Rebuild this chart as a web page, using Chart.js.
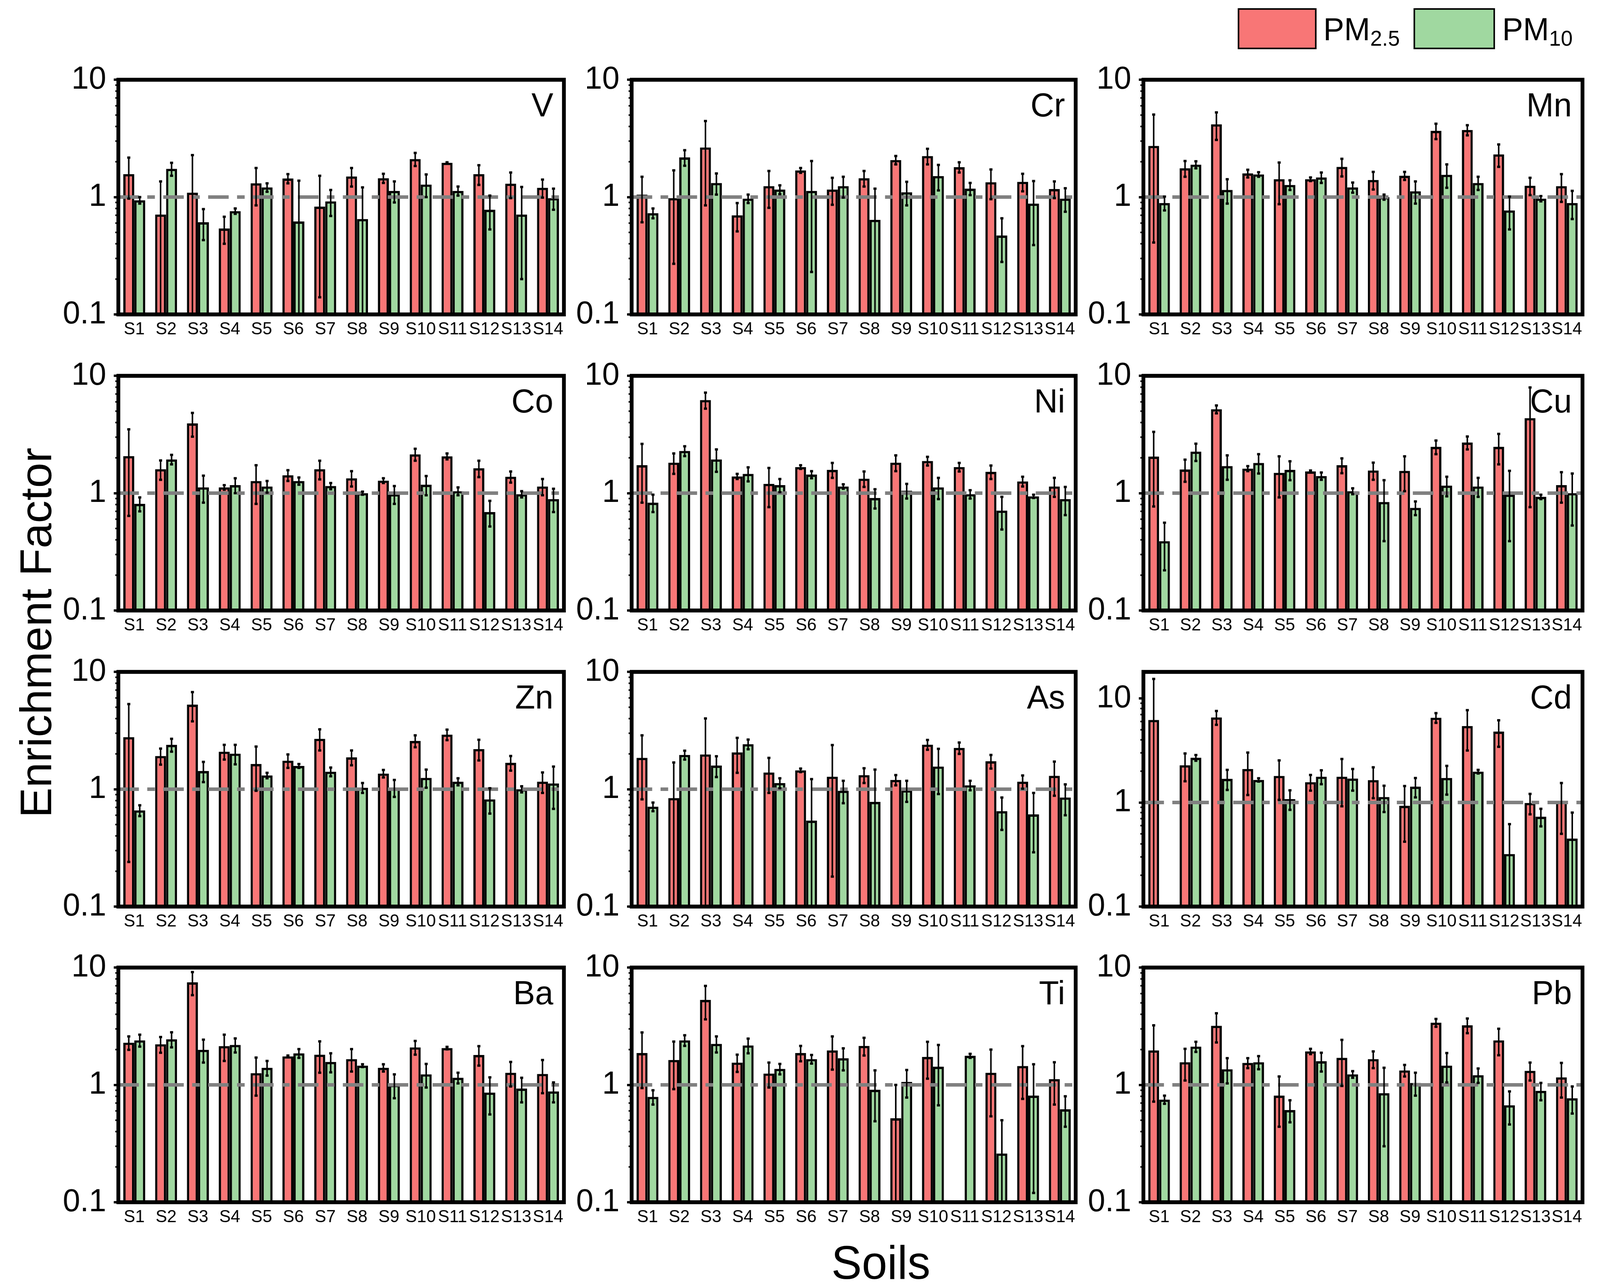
<!DOCTYPE html>
<html>
<head>
<meta charset="utf-8">
<script src="https://cdn.jsdelivr.net/npm/chart.js@4.4.0/dist/chart.umd.min.js"></script>
<style>
  html, body { margin: 0; padding: 0; background: #fff; overflow: hidden; }
  #page { position: absolute; left: 0; top: 0; width: 4205px; height: 3295px; transform-origin: 0 0;
          font-family: 'Liberation Sans', Arial, sans-serif; color: #000; background: #fff; }
  .panel { position: absolute; }
  .box { position: absolute; box-sizing: border-box; border: 4px solid #000; }
  .legtxt { position: absolute; font-size: 82px; line-height: 1; white-space: nowrap; }
  .legtxt sub { font-size: 56px; vertical-align: -14px; }
  .title { position: absolute; font-size: 116px; white-space: nowrap; transform: translate(-50%, -50%); }
</style>
</head>
<body>
<div id="page">
  <div class="box" style="left:3253px; top:21px; width:207px; height:105px; background:#F87676;"></div>
  <div class="legtxt" style="left:3478px; top:34px;">PM<sub>2.5</sub></div>
  <div class="box" style="left:3715px; top:21px; width:214px; height:105px; background:#A0D8A0;"></div>
  <div class="legtxt" style="left:3948px; top:34px;">PM<sub>10</sub></div>

  <div class="title" style="left:94px; top:1620px; transform: translate(-50%, -50%) rotate(-90deg);">Enrichment Factor</div>
  <div class="title" style="left:2315px; top:3232px; font-size:120px;">Soils</div>
</div>

<script>
// Soils on the x axis
const soils = ["S1","S2","S3","S4","S5","S6","S7","S8","S9","S10","S11","S12","S13","S14"];
const yTicks = [0.1, 1, 10];

// Enrichment factors (mean and SD)
const V_PM25    = [1.57,0.71,1.09,0.54,1.31,1.44,0.83,1.50,1.45,2.11,1.96,1.57,1.30,1.20];
const V_PM25_SD = [0.60,0.65,1.19,0.14,0.46,0.13,0.69,0.27,0.13,0.27,0.02,0.30,0.32,0.21];
const V_PM10    = [0.94,1.74,0.61,0.76,1.21,0.62,0.92,0.65,1.13,1.28,1.13,0.78,0.71,0.98];
const V_PM10_SD = [0.06,0.22,0.18,0.04,0.10,0.76,0.23,0.56,0.23,0.28,0.10,0.25,0.51,0.20];

const Cr_PM25    = [1.05,0.98,2.65,0.70,1.24,1.69,1.16,1.45,2.07,2.24,1.80,1.34,1.35,1.17];
const Cr_PM25_SD = [0.44,0.71,1.80,0.19,0.43,0.08,0.30,0.22,0.17,0.34,0.18,0.38,0.23,0.19];
const Cr_PM10    = [0.73,2.18,1.32,0.97,1.16,1.13,1.24,0.64,1.10,1.51,1.18,0.47,0.88,0.97];
const Cr_PM10_SD = [0.07,0.33,0.27,0.08,0.10,0.90,0.25,0.54,0.25,0.37,0.14,0.19,0.49,0.22];

const Mn_PM25    = [2.73,1.76,4.17,1.59,1.42,1.42,1.81,1.40,1.52,3.67,3.73,2.31,1.25,1.24];
const Mn_PM25_SD = [2.32,0.27,1.10,0.12,0.55,0.05,0.31,0.24,0.12,0.55,0.37,0.50,0.21,0.33];
const Mn_PM10    = [0.89,1.89,1.15,1.56,1.27,1.47,1.21,1.00,1.12,1.55,1.32,0.77,0.97,0.89];
const Mn_PM10_SD = [0.12,0.13,0.27,0.07,0.12,0.15,0.12,0.05,0.24,0.35,0.17,0.24,0.05,0.24];

const Co_PM25    = [2.07,1.60,3.93,1.12,1.27,1.42,1.60,1.34,1.28,2.14,2.06,1.63,1.38,1.14];
const Co_PM25_SD = [1.43,0.30,0.90,0.05,0.46,0.15,0.29,0.20,0.06,0.25,0.12,0.26,0.15,0.18];
const Co_PM10    = [0.81,1.94,1.12,1.17,1.14,1.27,1.15,1.00,0.98,1.18,1.04,0.69,0.98,0.89];
const Co_PM10_SD = [0.11,0.18,0.29,0.17,0.13,0.09,0.07,0.03,0.17,0.22,0.08,0.17,0.06,0.20];

const Ni_PM25    = [1.73,1.82,6.22,1.39,1.20,1.67,1.58,1.33,1.82,1.88,1.67,1.52,1.26,1.14];
const Ni_PM25_SD = [0.90,0.36,0.97,0.07,0.44,0.06,0.23,0.20,0.28,0.16,0.14,0.20,0.12,0.21];
const Ni_PM10    = [0.83,2.29,1.94,1.46,1.17,1.44,1.14,0.91,1.05,1.12,0.98,0.71,0.94,0.89];
const Ni_PM10_SD = [0.14,0.22,0.42,0.20,0.15,0.10,0.05,0.17,0.15,0.23,0.08,0.22,0.03,0.24];

const Cu_PM25    = [2.05,1.59,5.19,1.62,1.49,1.53,1.73,1.56,1.55,2.48,2.70,2.48,4.36,1.17];
const Cu_PM25_SD = [1.28,0.34,0.40,0.08,0.57,0.03,0.25,0.26,0.51,0.33,0.34,0.72,3.60,0.34];
const Cu_PM10    = [0.39,2.26,1.70,1.81,1.58,1.40,1.04,0.84,0.75,1.16,1.14,0.97,0.93,1.00];
const Cu_PM10_SD = [0.17,0.38,0.40,0.34,0.29,0.10,0.06,0.45,0.10,0.22,0.21,0.58,0.04,0.47];

const Zn_PM25    = [2.78,1.92,5.26,2.09,1.64,1.75,2.69,1.87,1.36,2.58,2.92,2.20,1.68,1.16];
const Zn_PM25_SD = [2.54,0.30,1.47,0.30,0.67,0.23,0.55,0.27,0.10,0.30,0.30,0.44,0.24,0.23];
const Zn_PM10    = [0.66,2.39,1.43,2.01,1.31,1.58,1.41,1.03,1.03,1.25,1.16,0.82,1.00,1.12];
const Zn_PM10_SD = [0.07,0.30,0.28,0.38,0.07,0.06,0.12,0.10,0.17,0.22,0.08,0.20,0.06,0.44];

const As_PM25    = [1.85,0.84,1.98,2.06,1.39,1.45,1.28,1.32,1.20,2.40,2.25,1.73,1.16,1.30];
const As_PM25_SD = [1.03,0.85,2.03,0.68,0.46,0.05,1.10,0.19,0.12,0.23,0.25,0.23,0.15,0.42];
const As_PM10    = [0.71,1.96,1.59,2.42,1.13,0.54,0.97,0.78,0.98,1.56,1.08,0.65,0.61,0.85];
const As_PM10_SD = [0.06,0.17,0.32,0.23,0.11,0.68,0.21,0.69,0.20,0.65,0.10,0.20,0.32,0.25];

const Cd_PM25    = [6.21,2.28,6.58,2.10,1.80,1.57,1.77,1.64,0.93,6.53,5.44,4.80,0.99,1.02];
const Cd_PM25_SD = [9.20,0.68,1.00,0.92,0.74,0.27,0.85,0.54,0.51,0.70,2.28,1.37,0.22,0.52];
const Cd_PM10    = [null,2.69,1.69,1.65,1.08,1.77,1.70,1.13,1.42,1.72,1.98,0.32,0.73,0.45];
const Cd_PM10_SD = [null,0.17,0.37,0.06,0.23,0.27,0.40,0.32,0.30,0.53,0.08,0.30,0.14,0.35];

const Ba_PM25    = [2.29,2.22,7.49,2.14,1.26,1.75,1.81,1.66,1.40,2.09,2.06,1.80,1.27,1.24];
const Ba_PM25_SD = [0.30,0.34,1.67,0.54,0.45,0.03,0.54,0.36,0.10,0.28,0.05,0.34,0.30,0.39];
const Ba_PM10    = [2.40,2.45,1.99,2.19,1.40,1.86,1.57,1.46,1.00,1.23,1.15,0.86,0.93,0.88];
const Ba_PM10_SD = [0.28,0.36,0.44,0.30,0.20,0.16,0.29,0.04,0.23,0.28,0.12,0.30,0.22,0.17];

const Ti_PM25    = [1.87,1.63,5.30,1.55,1.25,1.87,1.97,2.15,0.52,1.73,null,1.27,1.45,1.12];
const Ti_PM25_SD = [0.93,0.71,1.68,0.26,0.30,0.28,0.62,0.37,0.48,0.60,null,0.73,0.69,0.44];
const Ti_PM10    = [0.79,2.40,2.24,2.17,1.37,1.66,1.69,0.91,1.06,1.43,1.77,0.26,0.81,0.62];
const Ti_PM10_SD = [0.11,0.25,0.35,0.31,0.14,0.14,0.36,0.42,0.28,0.76,0.07,0.24,0.69,0.18];

const Pb_PM25    = [1.97,1.56,3.19,1.54,0.81,1.93,1.70,1.66,1.33,3.39,3.22,2.40,1.32,1.16];
const Pb_PM25_SD = [1.25,0.47,0.89,0.15,0.37,0.10,0.72,0.27,0.15,0.26,0.46,0.61,0.23,0.38];
const Pb_PM10    = [0.75,2.12,1.36,1.56,0.61,1.59,1.23,0.85,1.04,1.46,1.21,0.67,0.89,0.77];
const Pb_PM10_SD = [0.06,0.21,0.33,0.20,0.13,0.29,0.08,0.55,0.23,0.41,0.17,0.21,0.15,0.20];

const panels = [
  {name: "V",  pm25: V_PM25,  pm25sd: V_PM25_SD,  pm10: V_PM10,  pm10sd: V_PM10_SD,  ymax: 10},
  {name: "Cr", pm25: Cr_PM25, pm25sd: Cr_PM25_SD, pm10: Cr_PM10, pm10sd: Cr_PM10_SD, ymax: 10},
  {name: "Mn", pm25: Mn_PM25, pm25sd: Mn_PM25_SD, pm10: Mn_PM10, pm10sd: Mn_PM10_SD, ymax: 10},
  {name: "Co", pm25: Co_PM25, pm25sd: Co_PM25_SD, pm10: Co_PM10, pm10sd: Co_PM10_SD, ymax: 10},
  {name: "Ni", pm25: Ni_PM25, pm25sd: Ni_PM25_SD, pm10: Ni_PM10, pm10sd: Ni_PM10_SD, ymax: 10},
  {name: "Cu", pm25: Cu_PM25, pm25sd: Cu_PM25_SD, pm10: Cu_PM10, pm10sd: Cu_PM10_SD, ymax: 10},
  {name: "Zn", pm25: Zn_PM25, pm25sd: Zn_PM25_SD, pm10: Zn_PM10, pm10sd: Zn_PM10_SD, ymax: 10},
  {name: "As", pm25: As_PM25, pm25sd: As_PM25_SD, pm10: As_PM10, pm10sd: As_PM10_SD, ymax: 10},
  {name: "Cd", pm25: Cd_PM25, pm25sd: Cd_PM25_SD, pm10: Cd_PM10, pm10sd: Cd_PM10_SD, ymax: 18},
  {name: "Ba", pm25: Ba_PM25, pm25sd: Ba_PM25_SD, pm10: Ba_PM10, pm10sd: Ba_PM10_SD, ymax: 10},
  {name: "Ti", pm25: Ti_PM25, pm25sd: Ti_PM25_SD, pm10: Ti_PM10, pm10sd: Ti_PM10_SD, ymax: 10},
  {name: "Pb", pm25: Pb_PM25, pm25sd: Pb_PM25_SD, pm10: Pb_PM10, pm10sd: Pb_PM10_SD, ymax: 10}
];

// plot area positions (px) of the 3x4 grid
const colLeft  = [311, 1660, 3005];
const colWidth = [1171, 1167, 1154];
const rowTop   = [185, 943, 1701, 2458];
const plotH    = 620;
const padL = 150, padT = 50, padR = 30, padB = 70;

// fit the 4205x3295 layout into whatever viewport we actually get
const page = document.getElementById("page");
const sx = window.innerWidth / 4205, sy = window.innerHeight / 3295;
if (Math.abs(sx - 1) > 0.002 || Math.abs(sy - 1) > 0.002) {
  page.style.transform = `scale(${sx}, ${sy})`;
}

Chart.defaults.font.family = "'Liberation Sans', Arial, sans-serif";
Chart.defaults.color = "#000";

// reference line, error bars, minor ticks, frame and element label
const extras = {
  id: "extras",
  afterDatasetsDraw(chart) {
    const ctx = chart.ctx, a = chart.chartArea, y = chart.scales.y;
    ctx.save();
    ctx.strokeStyle = "#808080";
    ctx.lineWidth = 9;
    ctx.setLineDash([54, 22, 20, 22]);
    const y1 = y.getPixelForValue(1);
    ctx.beginPath(); ctx.moveTo(a.left, y1); ctx.lineTo(a.right, y1); ctx.stroke();
    ctx.setLineDash([]);

    ctx.strokeStyle = "#000";
    chart.data.datasets.forEach((ds, i) => {
      const meta = chart.getDatasetMeta(i);
      meta.data.forEach((bar, j) => {
        const v = ds.data[j], s = ds.sd[j];
        if (v == null || s == null) return;
        const x = bar.x;
        const top = y.getPixelForValue(v + s);
        const low = v - s;
        const bot = low > y.min ? y.getPixelForValue(low) : a.bottom;
        ctx.lineWidth = 4;
        ctx.beginPath(); ctx.moveTo(x, top); ctx.lineTo(x, bot); ctx.stroke();
        ctx.lineWidth = 6;
        ctx.beginPath(); ctx.moveTo(x - 4, top); ctx.lineTo(x + 4, top); ctx.stroke();
        if (low > y.min) {
          ctx.beginPath(); ctx.moveTo(x - 4, bot); ctx.lineTo(x + 4, bot); ctx.stroke();
        }
      });
    });
    ctx.restore();
  },
  afterDraw(chart, args, opts) {
    const ctx = chart.ctx, a = chart.chartArea, y = chart.scales.y;
    ctx.save();
    // minor log ticks on the left axis
    ctx.strokeStyle = "#000";
    ctx.lineWidth = 4;
    for (let e = -1; e <= 1; e++) {
      for (let m = 2; m <= 9; m++) {
        const v = m * Math.pow(10, e);
        if (v <= y.min || v >= y.max) continue;
        const py = y.getPixelForValue(v);
        ctx.beginPath(); ctx.moveTo(a.left - 8, py); ctx.lineTo(a.left + 2, py); ctx.stroke();
      }
    }
    ctx.lineWidth = 10;
    ctx.strokeRect(a.left, a.top, a.right - a.left, a.bottom - a.top);
    ctx.fillStyle = "#000";
    ctx.font = "86px 'Liberation Sans', Arial, sans-serif";
    ctx.textAlign = "right";
    ctx.textBaseline = "middle";
    ctx.fillText(opts.label, a.right - 28, a.top + 70);
    ctx.restore();
  }
};

panels.forEach((p, k) => {
  const col = k % 3, row = Math.floor(k / 3);
  const div = document.createElement("div");
  div.className = "panel";
  const w = colWidth[col] + padL + padR, h = plotH + padT + padB;
  div.style.left = (colLeft[col] - padL) + "px";
  div.style.top = (rowTop[row] - padT) + "px";
  div.style.width = w + "px";
  div.style.height = h + "px";
  const canvas = document.createElement("canvas");
  canvas.width = w; canvas.height = h;
  canvas.style.width = w + "px"; canvas.style.height = h + "px";
  div.appendChild(canvas);
  page.appendChild(div);

  new Chart(canvas, {
    type: "bar",
    data: {
      labels: soils,
      datasets: [
        {label: "PM2.5", data: p.pm25, sd: p.pm25sd, backgroundColor: "#F87676", borderColor: "#000", borderWidth: 6},
        {label: "PM10",  data: p.pm10, sd: p.pm10sd, backgroundColor: "#A0D8A0", borderColor: "#000", borderWidth: 6}
      ]
    },
    options: {
      responsive: false,
      animation: false,
      devicePixelRatio: 1,
      layout: {padding: {top: padT, right: padR, left: 0, bottom: 0}},
      datasets: {bar: {categoryPercentage: 0.69, barPercentage: 1.0}},
      plugins: {
        legend: {display: false},
        tooltip: {enabled: false},
        extras: {label: p.name}
      },
      scales: {
        x: {
          grid: {display: false, drawTicks: false},
          border: {display: false},
          ticks: {font: {size: 45}, padding: 12, autoSkip: false, maxRotation: 0, minRotation: 0},
          afterFit: (axis) => { axis.height = padB; }
        },
        y: {
          type: "logarithmic",
          min: 0.1,
          max: p.ymax,
          grid: {drawOnChartArea: false, drawTicks: true, tickLength: 12, lineWidth: 6, color: "#000"},
          border: {display: false},
          afterBuildTicks: (axis) => { axis.ticks = yTicks.map(v => ({value: v})); },
          ticks: {font: {size: 82}, padding: 20, autoSkip: false, callback: (v) => String(v)},
          afterFit: (axis) => { axis.width = padL; }
        }
      }
    },
    plugins: [extras]
  });
});
</script>
</body>
</html>
